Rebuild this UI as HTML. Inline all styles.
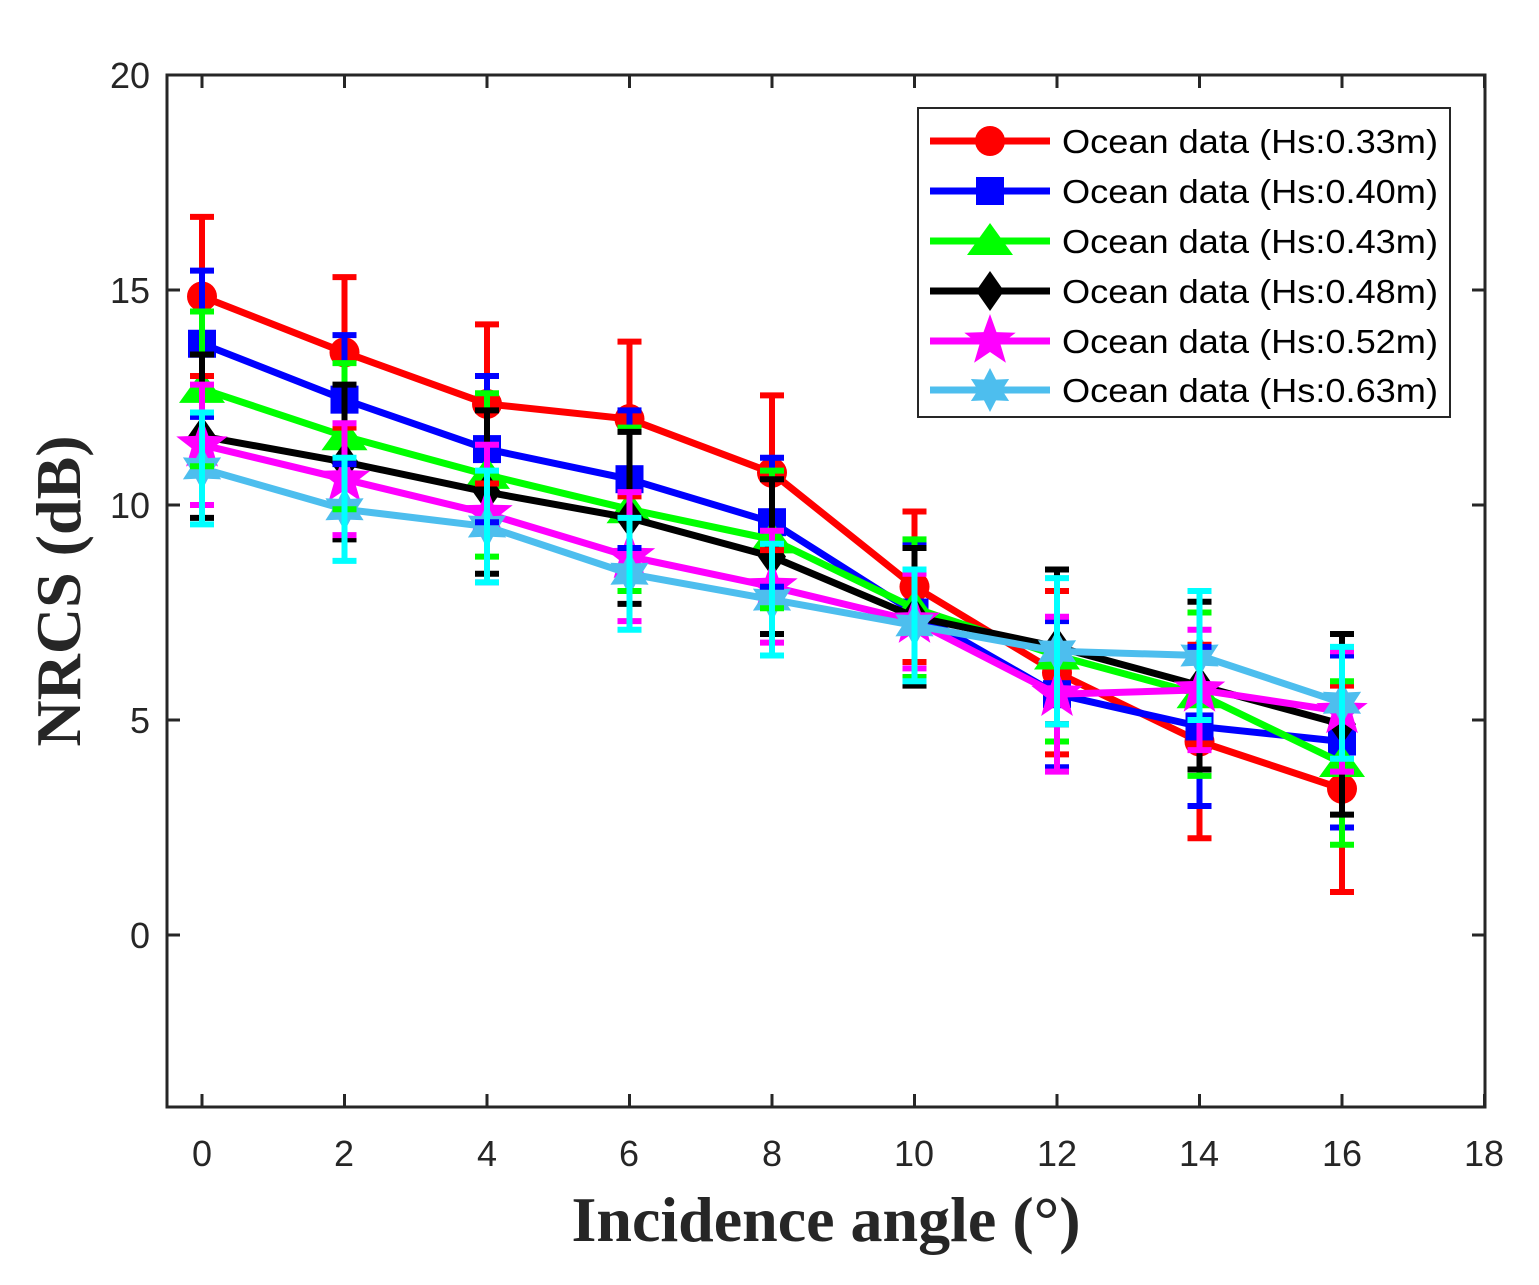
<!DOCTYPE html>
<html><head><meta charset="utf-8"><style>
html,body{margin:0;padding:0;background:#fff;}
svg text{font-family:"Liberation Sans",sans-serif;}
</style></head><body>
<svg id="s" width="1539" height="1280" xmlns="http://www.w3.org/2000/svg">
<rect width="1539" height="1280" fill="#fff"/>
<g id="plot"></g>
<rect x="167" y="75" width="1318" height="1032" fill="none" stroke="#262626" stroke-width="3"/>
<g id="ticks" stroke="#262626" stroke-width="3"></g>
<g font-size="36" fill="#262626" text-anchor="middle">
<text x="202" y="1166">0</text><text x="344" y="1166">2</text><text x="487" y="1166">4</text>
<text x="629" y="1166">6</text><text x="772" y="1166">8</text><text x="914" y="1166">10</text>
<text x="1057" y="1166">12</text><text x="1199" y="1166">14</text><text x="1342" y="1166">16</text>
<text x="1484" y="1166">18</text>
</g>
<g font-size="36" fill="#262626" text-anchor="end">
<text x="150" y="88">20</text><text x="150" y="303">15</text><text x="150" y="518">10</text>
<text x="150" y="733">5</text><text x="150" y="948">0</text>
</g>
<text x="826" y="1241" font-weight="bold" font-size="64" fill="#262626" text-anchor="middle" style="font-family:'Liberation Serif',serif">Incidence angle (°)</text>
<text transform="translate(80,591) rotate(-90)" font-weight="bold" font-size="64" fill="#262626" text-anchor="middle" style="font-family:'Liberation Serif',serif">NRCS (dB)</text>
<rect x="918" y="108" width="532" height="309" fill="#fff" stroke="#262626" stroke-width="2"/>
<g id="leg"></g>
<g font-size="33" fill="#000">
<text x="1062" y="153" textLength="376" lengthAdjust="spacingAndGlyphs">Ocean data (Hs:0.33m)</text>
<text x="1062" y="203" textLength="376" lengthAdjust="spacingAndGlyphs">Ocean data (Hs:0.40m)</text>
<text x="1062" y="253" textLength="376" lengthAdjust="spacingAndGlyphs">Ocean data (Hs:0.43m)</text>
<text x="1062" y="303" textLength="376" lengthAdjust="spacingAndGlyphs">Ocean data (Hs:0.48m)</text>
<text x="1062" y="353" textLength="376" lengthAdjust="spacingAndGlyphs">Ocean data (Hs:0.52m)</text>
<text x="1062" y="402" textLength="376" lengthAdjust="spacingAndGlyphs">Ocean data (Hs:0.63m)</text>
</g>
</svg>
<script>
const NS="http://www.w3.org/2000/svg";
const X=v=>202+v*71.25, Y=v=>935-v*43;
function el(p,t,a){const e=document.createElementNS(NS,t);for(const k in a)e.setAttribute(k,a[k]);p.appendChild(e);return e;}
const plot=document.getElementById('plot'),leg=document.getElementById('leg'),tk=document.getElementById('ticks');
for(let i=0;i<=9;i++){const x=X(2*i);el(tk,'line',{x1:x,y1:1107,x2:x,y2:1094});el(tk,'line',{x1:x,y1:75,x2:x,y2:88});}
for(let v=0;v<=20;v+=5){const y=Y(v);el(tk,'line',{x1:167,y1:y,x2:180,y2:y});el(tk,'line',{x1:1485,y1:y,x2:1472,y2:y});}
const S=[
{c:'#ff0000',e:'#ff0000',m:'o',d:[14.85,13.55,12.35,12.0,10.75,8.1,6.1,4.5,3.4],er:[1.85,1.75,1.85,1.8,1.8,1.75,1.9,2.25,2.4]},
{c:'#0000ff',e:'#0000ff',m:'s',d:[13.75,12.45,11.3,10.6,9.6,7.5,5.6,4.85,4.5],er:[1.7,1.5,1.7,1.6,1.5,1.6,1.7,1.85,2.0]},
{c:'#00ff00',e:'#00ff00',m:'^',d:[12.7,11.6,10.7,9.9,9.2,7.6,6.5,5.6,4.0],er:[1.8,1.7,1.9,1.9,1.6,1.6,2.0,1.9,1.9]},
{c:'#000000',e:'#000000',m:'d',d:[11.6,11.0,10.3,9.7,8.8,7.4,6.7,5.8,4.9],er:[1.9,1.8,1.9,2.0,1.8,1.6,1.8,1.95,2.1]},
{c:'#ff00ff',e:'#ff00ff',m:'p',d:[11.4,10.6,9.8,8.8,8.1,7.3,5.6,5.7,5.2],er:[1.4,1.3,1.6,1.5,1.3,1.1,1.8,1.4,1.4]},
{c:'#4dbeee',e:'#00ffff',m:'h',d:[10.85,9.9,9.5,8.4,7.8,7.2,6.6,6.5,5.4],er:[1.3,1.2,1.3,1.3,1.3,1.3,1.7,1.5,1.3]}];
function star(cx,cy,n,R,r){let p=[];for(let i=0;i<2*n;i++){const a=-Math.PI/2+i*Math.PI/n,rr=i%2?r:R;p.push((cx+rr*Math.cos(a)).toFixed(1)+','+(cy+rr*Math.sin(a)).toFixed(1));}return p.join(' ');}
function mark(g,m,x,y,c){
 if(m=='o')el(g,'circle',{cx:x,cy:y,r:15,fill:c});
 else if(m=='s')el(g,'rect',{x:x-14,y:y-14,width:28,height:28,fill:c});
 else if(m=='^')el(g,'polygon',{points:`${x},${y-18} ${x+23},${y+14} ${x-23},${y+14}`,fill:c});
 else if(m=='d')el(g,'polygon',{points:`${x},${y-20} ${x+14},${y} ${x},${y+20} ${x-14},${y}`,fill:c});
 else if(m=='p')el(g,'polygon',{points:star(x,y,5,27,11),fill:c});
 else el(g,'polygon',{points:star(x,y,6,22,12),fill:c});
}
S.forEach(s=>{const pts=s.d.map((v,i)=>X(2*i)+','+Y(v)).join(' ');
 el(plot,'polyline',{points:pts,fill:'none',stroke:s.c,'stroke-width':7,'stroke-linejoin':'miter'});
 s.d.forEach((v,i)=>mark(plot,s.m,X(2*i),Y(v),s.c));});
S.forEach(s=>{s.d.forEach((v,i)=>{const x=X(2*i),t=Y(v+s.er[i]),b=Y(v-s.er[i]);
 el(plot,'line',{x1:x,y1:t,x2:x,y2:b,stroke:s.e,'stroke-width':6});
 el(plot,'line',{x1:x-12,y1:t,x2:x+12,y2:t,stroke:s.e,'stroke-width':6});
 el(plot,'line',{x1:x-12,y1:b,x2:x+12,y2:b,stroke:s.e,'stroke-width':6});});});
const ly=[141,191,241,291,341,390];
S.forEach((s,i)=>{el(leg,'line',{x1:930,y1:ly[i],x2:1050,y2:ly[i],stroke:s.c,'stroke-width':7});mark(leg,s.m,990,ly[i],s.c);});
</script>
</body></html>
